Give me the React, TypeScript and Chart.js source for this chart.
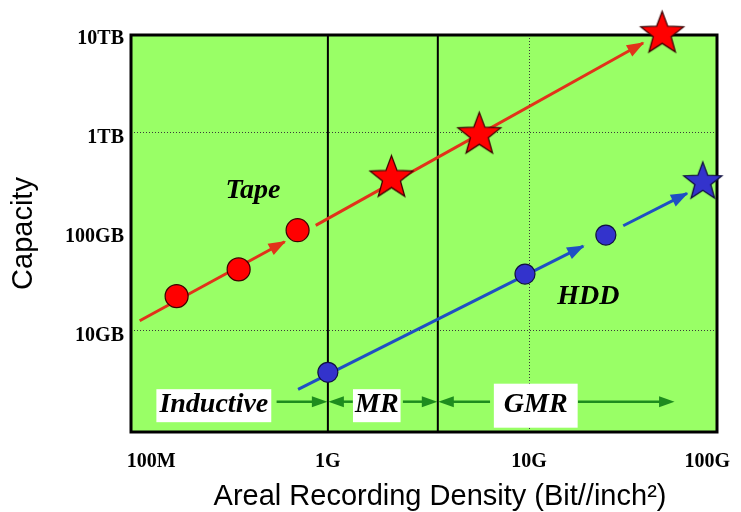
import React, { useEffect, useRef } from 'react';
import { Chart, registerables } from 'chart.js';

Chart.register(...registerables);

// ---------- data (x: bit/inch², y: GB) ----------
const xTickValues = [1e8, 1e9, 1e10, 1e11];
const xTickLabels = ['100M', '1G', '10G', '100G'];
const yTickValues = [10, 100, 1000, 10000];
const yTickLabels = ['10GB', '100GB', '1TB', '10TB'];
const xGridValues = [1e10];
const yGridValues = [10, 1000];
const xRange = [1.05e8, 8.6e10];
const yRange = [0.934, 9550];
const xTitle = 'Areal Recording Density (Bit//inch²)';
const yTitle = 'Capacity';

const tapeCircleX = [1.77e8, 3.6e8, 7.07e8];
const tapeCircleY = [22, 41, 102];
const tapeStarX = [2.07e9, 5.66e9, 4.59e10];
const tapeStarY = [360, 984, 10300];
const hddCircleX = [1.0e9, 9.55e9, 2.41e10];
const hddCircleY = [3.74, 36.8, 91];
const hddStarX = [7.31e10];
const hddStarY = [327];

// trend arrows (start point -> arrow tip)
const tapeArrowStartX = [1.16e8, 8.7e8];
const tapeArrowStartY = [12.4, 114];
const tapeArrowEndX = [6.1e8, 3.69e10];
const tapeArrowEndY = [78, 7925];
const hddArrowStartX = [7.11e8, 2.94e10];
const hddArrowStartY = [2.52, 113];
const hddArrowEndX = [1.86e10, 6.1e10];
const hddArrowEndY = [70.5, 240];

// head technology eras
const headBoundaries = [1e9, 3.52e9];
const headNames = ['Inductive', 'MR', 'GMR'];
const headLabelX = [2.71e8, 1.75e9, 1.08e10];
const headBandY = 1.89;
const headArrowFromX = [5.56e8, 1.33e9, 2.36e9, 6.4e9, 1.75e10];
const headArrowToX = [1e9, 1e9, 3.52e9, 3.52e9, 5.32e10];

const seriesNames = ['Tape', 'HDD'];
const seriesLabelX = [4.24e8, 1.97e10];
const seriesLabelY = [254, 21.5];

// ---------- styles ----------
const C = {
  plot: '#99FF66',
  tapeLine: '#E2321A',
  tapeMark: '#FF0000',
  hddLine: '#1F4FC4',
  hddMark: '#3333CC',
  band: '#1E8C1E',
  grid: '#3a3a3a',
};
const headBoxPadX = [3, 2, 10];
const headBoxH = [33, 33, 44];
const LABEL_FONT = 'italic bold 28px "Liberation Serif"';

function makeStar(r: number, fill: string, stroke: string) {
  const size = Math.ceil(2 * r + 6);
  const c = document.createElement('canvas');
  c.width = size;
  c.height = size;
  const g = c.getContext('2d')!;
  const cx = size / 2;
  const cy = size / 2 + r * 0.095;
  g.beginPath();
  for (let i = 0; i < 10; i++) {
    const rad = i % 2 === 0 ? r : r * 0.42;
    const a = -Math.PI / 2 + (i * Math.PI) / 5;
    g.lineTo(cx + rad * Math.cos(a), cy + rad * Math.sin(a));
  }
  g.closePath();
  g.fillStyle = fill;
  g.fill();
  g.lineWidth = 1.3;
  g.strokeStyle = stroke;
  g.stroke();
  return c;
}

function arrowHead(ctx: CanvasRenderingContext2D, x0: number, y0: number, x1: number, y1: number, len: number, wid: number, color: string) {
  const a = Math.atan2(y1 - y0, x1 - x0);
  ctx.save();
  ctx.translate(x1, y1);
  ctx.rotate(a);
  ctx.beginPath();
  ctx.moveTo(1.5, 0);
  ctx.lineTo(-len, wid / 2);
  ctx.lineTo(-len, -wid / 2);
  ctx.closePath();
  ctx.fillStyle = color;
  ctx.fill();
  ctx.restore();
}

const decor = {
  id: 'decor',
  beforeDraw(chart: any) {
    const { ctx, chartArea: a } = chart;
    ctx.save();
    ctx.fillStyle = C.plot;
    ctx.fillRect(a.left, a.top, a.right - a.left, a.bottom - a.top);
    ctx.restore();
  },
  beforeDatasetsDraw(chart: any) {
    const { ctx, chartArea: a, scales } = chart;
    ctx.save();
    ctx.strokeStyle = '#000';
    ctx.lineWidth = 2;
    headBoundaries.forEach((v) => {
      const px = scales.x.getPixelForValue(v);
      ctx.beginPath();
      ctx.moveTo(px, a.top);
      ctx.lineTo(px, a.bottom);
      ctx.stroke();
    });
    ctx.lineWidth = 3;
    ctx.strokeRect(a.left, a.top, a.right - a.left, a.bottom - a.top);
    ctx.restore();
  },
  afterDatasetsDraw(chart: any) {
    const { ctx, scales, chartArea: a } = chart;
    const xs = scales.x, ys = scales.y;
    ctx.save();
    const heads = (sx: number[], sy: number[], ex: number[], ey: number[], color: string) => {
      sx.forEach((_, i) => {
        arrowHead(ctx, xs.getPixelForValue(sx[i]), ys.getPixelForValue(sy[i]),
          xs.getPixelForValue(ex[i]), ys.getPixelForValue(ey[i]), 16, 13, color);
      });
    };
    heads(tapeArrowStartX, tapeArrowStartY, tapeArrowEndX, tapeArrowEndY, C.tapeLine);
    heads(hddArrowStartX, hddArrowStartY, hddArrowEndX, hddArrowEndY, C.hddLine);

    const by = ys.getPixelForValue(headBandY);
    ctx.strokeStyle = C.band;
    ctx.lineWidth = 2.5;
    headArrowFromX.forEach((fx, i) => {
      const x0 = xs.getPixelForValue(fx);
      let x1 = xs.getPixelForValue(headArrowToX[i]);
      const dir = x1 > x0 ? 1 : -1;
      x1 -= dir * 2;
      ctx.beginPath();
      ctx.moveTo(x0, by);
      ctx.lineTo(x1 - dir * 10, by);
      ctx.stroke();
      arrowHead(ctx, x0, by, x1, by, 14, 11, C.band);
    });
    ctx.font = LABEL_FONT;
    ctx.textAlign = 'center';
    ctx.textBaseline = 'middle';
    headNames.forEach((name, i) => {
      const cx = xs.getPixelForValue(headLabelX[i]);
      const w = ctx.measureText(name).width + 2 * headBoxPadX[i];
      const h = headBoxH[i];
      ctx.fillStyle = '#FFFFFF';
      ctx.fillRect(cx - w / 2, by + 4 - h / 2, w, h);
      ctx.fillStyle = '#000';
      ctx.fillText(name, cx, by + 3);
    });
    seriesNames.forEach((name, i) => {
      ctx.fillStyle = '#000';
      ctx.fillText(name, xs.getPixelForValue(seriesLabelX[i]), ys.getPixelForValue(seriesLabelY[i]));
    });
    // x-axis title
    ctx.font = '29px "Liberation Sans"';
    ctx.textBaseline = 'middle';
    ctx.fillText(xTitle, (a.left + a.right) / 2 + 16, chart.height - 15);
    ctx.restore();
  },
};

export default function App() {
  const ref = useRef<HTMLCanvasElement>(null);
  useEffect(() => {
    document.body.style.margin = '0';
    const canvas = ref.current!;
    const redStar = makeStar(22.5, C.tapeMark, '#3a0000');
    const blueStar = makeStar(20, C.hddMark, '#101040');
    const pts = (xs: number[], ys: number[]) => xs.map((x, i) => ({ x, y: ys[i] }));
    const segs = (sx: number[], sy: number[], ex: number[], ey: number[]) =>
      sx.map((_, i) => [{ x: sx[i], y: sy[i] }, { x: ex[i], y: ey[i] }]);
    const lineDs = (d: any, color: string) => ({
      data: d, showLine: true, borderColor: color, borderWidth: 3, pointRadius: 0, clip: false,
    });
    const tickFont = { family: 'Liberation Serif', size: 20, weight: 'bold' as const };
    const titleFont = { family: 'Liberation Sans', size: 29, lineHeight: 1 };

    const chart = new Chart(canvas, {
      type: 'scatter',
      data: {
        datasets: [
          { label: 'Tape stars', data: pts(tapeStarX, tapeStarY), pointStyle: redStar, pointRadius: 22, showLine: false, clip: false } as any,
          { label: 'HDD stars', data: pts(hddStarX, hddStarY), pointStyle: blueStar, pointRadius: 20, showLine: false, clip: false } as any,
          { label: 'Tape', data: pts(tapeCircleX, tapeCircleY), pointStyle: 'circle', pointRadius: 11.5, backgroundColor: C.tapeMark, borderColor: '#3a0000', borderWidth: 1.2, showLine: false, clip: false } as any,
          { label: 'HDD', data: pts(hddCircleX, hddCircleY), pointStyle: 'circle', pointRadius: 10, backgroundColor: C.hddMark, borderColor: '#101040', borderWidth: 1.2, showLine: false, clip: false } as any,
          ...segs(tapeArrowStartX, tapeArrowStartY, tapeArrowEndX, tapeArrowEndY).map((d) => lineDs(d, C.tapeLine)),
          ...segs(hddArrowStartX, hddArrowStartY, hddArrowEndX, hddArrowEndY).map((d) => lineDs(d, C.hddLine)),
        ],
      },
      options: {
        animation: false,
        responsive: true,
        maintainAspectRatio: false,
        layout: { padding: { top: 35, right: 24, left: 0, bottom: 0 } },
        plugins: { legend: { display: false }, tooltip: { enabled: false } },
        events: [],
        scales: {
          x: {
            type: 'logarithmic',
            min: xRange[0],
            max: xRange[1],
            afterBuildTicks: (s: any) => { s.ticks = xTickValues.map((v) => ({ value: v })); },
            afterFit: (s: any) => { s.height = 80; s.paddingLeft = 0; s.paddingRight = 0; },
            ticks: {
              autoSkip: false, maxRotation: 0, minRotation: 0, align: 'inner', padding: 18, color: '#000', font: tickFont,
              callback: (v: any) => xTickLabels[xTickValues.indexOf(Number(v))] ?? '',
            },
            grid: {
              drawTicks: false, lineWidth: 1,
              color: (c: any) => (c.tick && xGridValues.includes(c.tick.value) ? C.grid : 'rgba(0,0,0,0)'),
            },
            border: { display: false, dash: [1, 2] },
            title: { display: false },
          } as any,
          y: {
            type: 'logarithmic',
            min: yRange[0],
            max: yRange[1],
            afterBuildTicks: (s: any) => { s.ticks = yTickValues.map((v) => ({ value: v })); },
            afterFit: (s: any) => { s.width = 131; s.paddingTop = 0; s.paddingBottom = 0; },
            ticks: {
              autoSkip: false, padding: 7, labelOffset: 6, color: '#000', font: tickFont,
              callback: (v: any) => yTickLabels[yTickValues.indexOf(Number(v))] ?? '',
            },
            grid: {
              drawTicks: false, lineWidth: 1,
              color: (c: any) => (c.tick && yGridValues.includes(c.tick.value) ? C.grid : 'rgba(0,0,0,0)'),
            },
            border: { display: false, dash: [1, 2] },
            title: { display: true, text: yTitle, color: '#000', font: titleFont, padding: { top: 9, bottom: 0 } },
          } as any,
        },
      },
      plugins: [decor],
    });
    return () => chart.destroy();
  }, []);

  return (
    <div style={{ position: 'relative', width: 741, height: 512, background: '#fff' }}>
      <canvas ref={ref} />
    </div>
  );
}
